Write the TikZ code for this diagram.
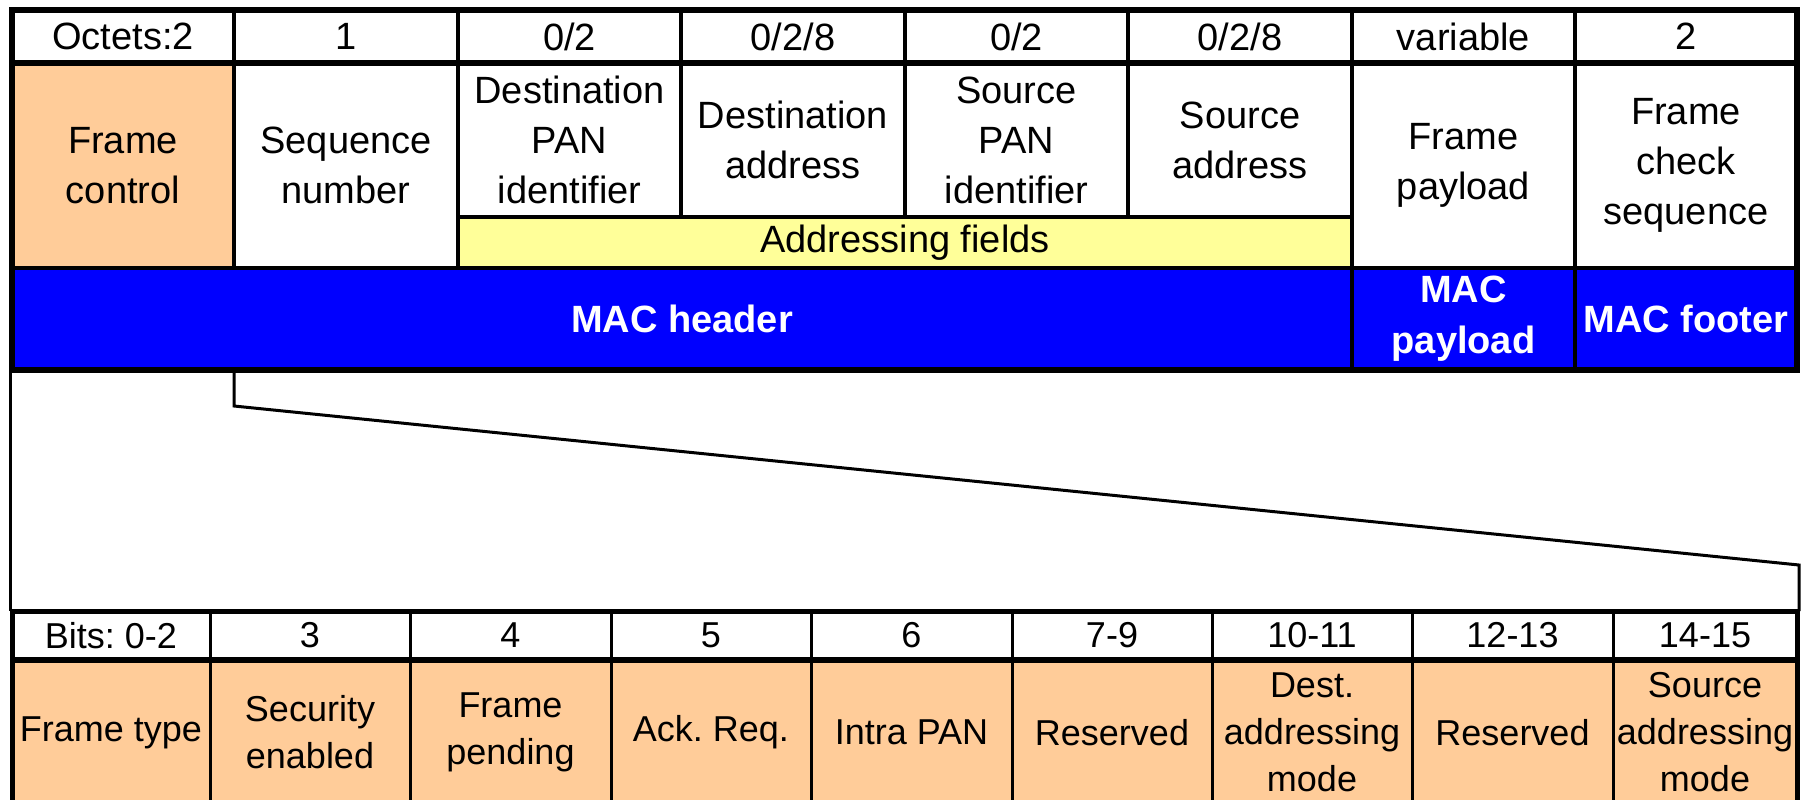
\documentclass[tikz,border=0pt]{standalone}
\usepackage{fontspec}
\setmainfont{Liberation Sans}
\usetikzlibrary{calc}
\definecolor{ctrlorange}{RGB}{255,204,153}
\definecolor{addryellow}{RGB}{255,255,153}
\definecolor{macblue}{RGB}{0,0,255}
\tikzset{
  field/.style={inner sep=0pt, outer sep=0pt, draw=black,
    line width=2pt, align=center, font=\fontsize{19}{25}\selectfont},
  bitfield/.style={inner sep=0pt, outer sep=0pt, draw=black,
    line width=1.5pt, align=center, font=\fontsize{18}{23.5}\selectfont},
  ctrl/.style={fill=ctrlorange},
  addr/.style={fill=addryellow},
  mac/.style={fill=macblue, text=white, font=\fontsize{19}{25.5}\selectfont\bfseries},
  frameline/.style={line width=3pt},
  zoomline/.style={line width=1.5pt, line join=miter}
}
% a boxed field given by its corners (in picture units):
% #1 style, #2 name, #3 x1, #4 y1, #5 x2, #6 y2, #7 text
\newcommand\fieldbox[7]{%
  \pgfmathsetmacro\fbw{(#5-#3)/2}%
  \pgfmathsetmacro\fbh{(#6-#4)/2}%
  \pgfmathsetmacro\fbx{(#3+#5)/2}%
  \pgfmathsetmacro\fby{(#4+#6)/2}%
  \node[#1, minimum width=\fbw pt, minimum height=\fbh pt] (#2) at (\fbx,\fby) {#7};}
\begin{document}
\frenchspacing
\begin{tikzpicture}[x=0.5pt, y=-0.5pt]
\useasboundingbox (0,0) rectangle (1805,799);
\clip (0,0) rectangle (1805,799);

% ---- MAC frame: octet counts
\fieldbox{field}{o1}{12}{10}{234}{63}{Octets:2}
\fieldbox{field}{o2}{234}{10}{458}{63}{1}
\fieldbox{field}{o3}{458}{10}{681}{63}{0/2}
\fieldbox{field}{o4}{681}{10}{905}{63}{0/2/8}
\fieldbox{field}{o5}{905}{10}{1128}{63}{0/2}
\fieldbox{field}{o6}{1128}{10}{1352}{63}{0/2/8}
\fieldbox{field}{o7}{1352}{10}{1575}{63}{variable}
\fieldbox{field}{o8}{1575}{10}{1797}{63}{2}

% ---- MAC frame: fields
\fieldbox{field,ctrl}{fc}{12}{63}{234}{268}{Frame\\control}
\fieldbox{field}{sn}{234}{63}{458}{268}{Sequence\\number}
\fieldbox{field}{dp}{458}{63}{681}{217}{Destination\\PAN\\identifier}
\fieldbox{field}{da}{681}{63}{905}{217}{Destination\\address}
\fieldbox{field}{sp}{905}{63}{1128}{217}{Source\\PAN\\identifier}
\fieldbox{field}{sa}{1128}{63}{1352}{217}{Source\\address}
\fieldbox{field,addr}{af}{458}{217}{1352}{268}{Addressing fields}
\fieldbox{field}{fp}{1352}{63}{1575}{268}{Frame\\payload}
\fieldbox{field}{fcs}{1575}{63}{1797}{268}{Frame\\check\\sequence}

% ---- MAC frame: header / payload / footer
\fieldbox{field,mac}{mh}{12}{268}{1352}{370}{MAC header}
\fieldbox{field,mac}{mp}{1352}{268}{1575}{370}{MAC\\payload}
\fieldbox{field,mac}{mf}{1575}{268}{1797}{370}{MAC footer}

% heavier outline and header rule of the frame table
\draw[frameline] (o1.north west) rectangle (mf.south east);
\draw[frameline] (o1.south west) -- (o8.south east);

% ---- Frame control: bit positions
\fieldbox{bitfield}{b0}{12}{611}{210}{660}{Bits: 0-2}
\fieldbox{bitfield}{b3}{210}{611}{410}{660}{3}
\fieldbox{bitfield}{b4}{410}{611}{611}{660}{4}
\fieldbox{bitfield}{b5}{611}{611}{811}{660}{5}
\fieldbox{bitfield}{b6}{811}{611}{1012}{660}{6}
\fieldbox{bitfield}{b7}{1012}{611}{1212}{660}{7-9}
\fieldbox{bitfield}{b10}{1212}{611}{1412}{660}{10-11}
\fieldbox{bitfield}{b12}{1412}{611}{1613}{660}{12-13}
\fieldbox{bitfield}{b14}{1613}{611}{1797}{660}{14-15}

% ---- Frame control: subfields
\fieldbox{bitfield,ctrl}{ft}{12}{660}{210}{805}{Frame type}
\fieldbox{bitfield,ctrl}{se}{210}{660}{410}{805}{Security\\enabled}
\fieldbox{bitfield,ctrl}{fpd}{410}{660}{611}{805}{Frame\\pending}
\fieldbox{bitfield,ctrl}{ar}{611}{660}{811}{805}{Ack. Req.}
\fieldbox{bitfield,ctrl}{ip}{811}{660}{1012}{805}{Intra PAN}
\fieldbox{bitfield,ctrl}{r1}{1012}{660}{1212}{805}{Reserved}
\fieldbox{bitfield,ctrl}{dam}{1212}{660}{1412}{805}{Dest.\\addressing\\mode}
\fieldbox{bitfield,ctrl}{r2}{1412}{660}{1613}{805}{Reserved}
\fieldbox{bitfield,ctrl}{sam}{1613}{660}{1797}{805}{Source\\addressing\\mode}

% heavier outline and header rule of the bit table
\draw[line width=2.5pt] (b0.south west |- ft.south) -- (b0.north west) -- (b14.north east) -- (b14.east |- sam.south);
\draw[frameline] (b0.south west) -- (b14.south east);

% ---- expansion of the frame control field
\draw[zoomline] ([xshift=-1pt]mh.south west) -- ([xshift=-1pt]b0.north west);
\draw[zoomline] (mh.south west -| fc.east)
  -- ($(mh.south west -| fc.east)+(0,36)$)
  -- ($(b14.north east)+(2,-46)$)
  -- ([xshift=1pt]b14.north east);
\end{tikzpicture}
\end{document}
